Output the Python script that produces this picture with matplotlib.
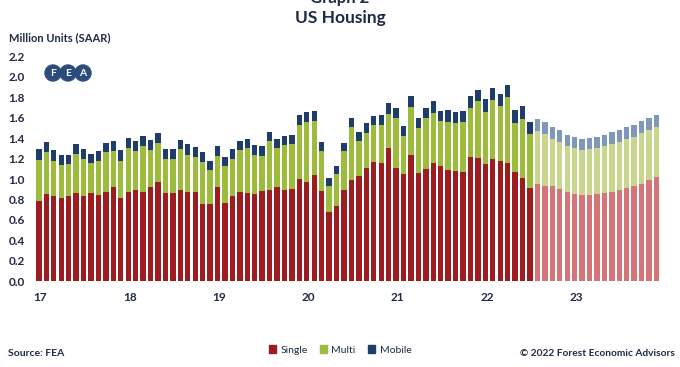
import numpy as np
import matplotlib.pyplot as plt
from matplotlib.patches import Circle, Patch

# monthly, Jan 2017 - Dec 2023; last 17 months are forecast
single = [0.78, 0.85, 0.83, 0.81, 0.83, 0.86, 0.83, 0.86, 0.84, 0.87, 0.92, 0.81,
          0.87, 0.89, 0.87, 0.92, 0.97, 0.86, 0.86, 0.89, 0.87, 0.87, 0.76, 0.76,
          0.92, 0.77, 0.83, 0.87, 0.86, 0.85, 0.88, 0.89, 0.92, 0.89, 0.90, 1.00,
          0.97, 1.04, 0.88, 0.68, 0.74, 0.89, 0.99, 1.03, 1.11, 1.17, 1.16, 1.30,
          1.11, 1.05, 1.24, 1.06, 1.10, 1.16, 1.13, 1.09, 1.08, 1.07, 1.22, 1.21,
          1.15, 1.20, 1.18, 1.16, 1.07, 1.01, 0.91,
          0.95, 0.93, 0.93, 0.90, 0.87, 0.85, 0.84, 0.84, 0.85, 0.86, 0.87, 0.89,
          0.91, 0.93, 0.95, 0.99, 1.02]
total_sm = [1.19, 1.26, 1.18, 1.14, 1.15, 1.25, 1.20, 1.16, 1.18, 1.26, 1.27, 1.18,
            1.30, 1.27, 1.32, 1.28, 1.35, 1.20, 1.20, 1.29, 1.24, 1.22, 1.17, 1.09,
            1.23, 1.13, 1.20, 1.28, 1.30, 1.24, 1.23, 1.37, 1.30, 1.33, 1.34, 1.53,
            1.56, 1.57, 1.27, 0.93, 1.05, 1.27, 1.51, 1.37, 1.45, 1.53, 1.53, 1.64,
            1.60, 1.42, 1.71, 1.50, 1.60, 1.65, 1.57, 1.56, 1.55, 1.56, 1.70, 1.76,
            1.66, 1.77, 1.72, 1.80, 1.55, 1.59, 1.44,
            1.47, 1.44, 1.39, 1.36, 1.32, 1.30, 1.28, 1.29, 1.30, 1.32, 1.34, 1.36,
            1.39, 1.41, 1.45, 1.48, 1.51]
total = [1.29, 1.36, 1.28, 1.24, 1.24, 1.34, 1.29, 1.25, 1.27, 1.35, 1.37, 1.28,
         1.40, 1.37, 1.42, 1.38, 1.45, 1.29, 1.29, 1.38, 1.34, 1.31, 1.26, 1.18,
         1.32, 1.22, 1.29, 1.37, 1.39, 1.33, 1.32, 1.46, 1.39, 1.42, 1.43, 1.63,
         1.66, 1.67, 1.36, 1.01, 1.13, 1.35, 1.60, 1.46, 1.55, 1.62, 1.63, 1.74,
         1.70, 1.52, 1.81, 1.60, 1.70, 1.76, 1.67, 1.68, 1.66, 1.67, 1.81, 1.87,
         1.78, 1.89, 1.83, 1.92, 1.68, 1.72, 1.56,
         1.59, 1.56, 1.51, 1.48, 1.43, 1.41, 1.39, 1.40, 1.41, 1.43, 1.46, 1.48,
         1.51, 1.53, 1.57, 1.60, 1.63]
n_actual = 67
year_labels = ["17", "18", "19", "20", "21", "22", "23"]

single = np.array(single)
multi = np.array(total_sm) - single
mobile = np.array(total) - np.array(total_sm)
x = np.arange(len(single))

c_single = ["#9c1c20"] * n_actual + ["#d4757a"] * (len(x) - n_actual)
c_multi = ["#9dbb3d"] * n_actual + ["#c8d78d"] * (len(x) - n_actual)
c_mobile = ["#1e3d6b"] * n_actual + ["#7f97ba"] * (len(x) - n_actual)

plt.rcParams['font.family'] = ['Lato', 'DejaVu Sans']
txt = "#1f2a44"

fig = plt.figure(figsize=(6.8, 3.67), dpi=100)
ax = fig.add_axes([0.0507, 0.234, 0.9213, 0.612])

w = 0.72
ax.bar(x, single, w, color=c_single)
ax.bar(x, multi, w, bottom=single, color=c_multi)
ax.bar(x, mobile, w, bottom=single + multi, color=c_mobile)

ax.set_xlim(-0.6, len(x) - 0.4)
ax.set_ylim(0, 2.2)
ax.set_yticks(np.arange(0, 2.21, 0.2))
ax.set_yticklabels([f"{v:.1f}" for v in np.arange(0, 2.21, 0.2)])
ax.set_xticks(np.arange(0, len(x), 12) + 0.2)
ax.set_xticklabels(year_labels)
ax.tick_params(length=0, labelsize=8.5, labelcolor=txt, pad=8)
ax.tick_params(axis='y', pad=7)
for lab in ax.get_xticklabels() + ax.get_yticklabels():
    lab.set_fontweight('bold')
for s in ax.spines.values():
    s.set_visible(False)

# top line of the title is cut off by the page edge, as in the source
fig.text(0.5, 1.005, "Graph 2", ha='center', va='center', fontsize=12,
         fontweight='bold', color=txt)
fig.text(0.5, 0.951, "US Housing", ha='center', va='center', fontsize=12.5,
         fontweight='bold', color=txt)
fig.text(0.013, 0.898, "Million Units (SAAR)", ha='left', va='center', fontsize=8,
         fontweight='bold', color=txt)

# FEA logo
for i, letter in enumerate("FEA"):
    cx, cy = 0.53 + i * 0.15, 2.94
    fig.patches.append(Circle((cx, cy), 0.08, transform=fig.dpi_scale_trans,
                              color="#2c4d7c", zorder=5))
    fig.text(cx / 6.8, cy / 3.67, letter, ha='center', va='center', fontsize=7.5,
             fontweight='bold', color='white', zorder=6)

handles = [Patch(color="#9c1c20"), Patch(color="#9dbb3d"), Patch(color="#1e3d6b")]
fig.legend(handles, ["Single", "Multi", "Mobile"], loc='center',
           bbox_to_anchor=(0.5, 0.046), ncol=3, frameon=False, fontsize=7.5,
           handlelength=0.7, handleheight=0.7, handletextpad=0.4, columnspacing=1.2,
           labelcolor=txt)

fig.text(0.012, 0.038, "Source: FEA", ha='left', va='center', fontsize=7.5,
         fontweight='bold', color=txt)
fig.text(0.992, 0.038, "\u00a9 2022 Forest Economic Advisors", ha='right', va='center',
         fontsize=7.3, fontweight='bold', color=txt)

fig.savefig("out.png", dpi=100)
